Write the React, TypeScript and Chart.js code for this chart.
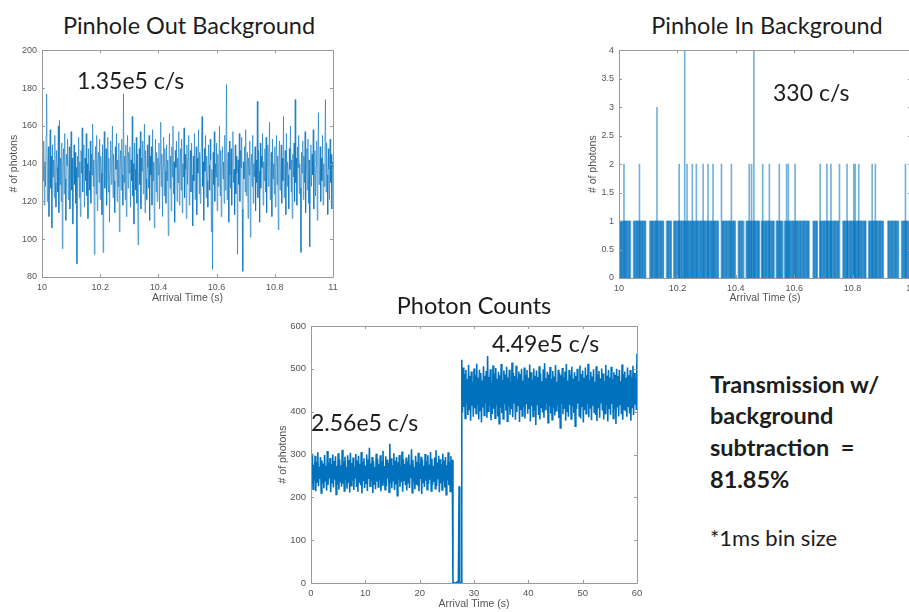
import React, { useEffect, useRef } from 'react';
import { Chart, registerables } from 'chart.js';

Chart.register(...registerables);

// ---- Pinhole out background: photons per bin, 10.000 s to 11.000 s, 2 ms apart ----
const outStart = 10;
const outStep = 0.002;
const outCounts = [
  124, 146, 131, 152, 118, 141, 128, 155, 177, 120,
  139, 149, 112, 136, 158, 127, 144, 106, 150, 133,
  142, 122, 155, 130, 117, 147, 138, 125, 160, 114,
  163, 129, 143, 120, 151, 95, 137, 148, 124, 156,
  132, 110, 145, 139, 153, 121, 134, 149, 116, 140,
  157, 126, 143, 108, 136, 150, 129, 146, 119, 138,
  87, 144, 133, 154, 122, 141, 112, 147, 135, 159,
  125, 138, 150, 117, 143, 131, 156, 123, 140, 111,
  148, 136, 126, 152, 119, 145, 134, 161, 128, 142,
  92, 137, 149, 124, 155, 115, 139, 146, 130, 153,
  121, 144, 135, 113, 150, 93, 141, 157, 127, 138,
  148, 118, 133, 154, 125, 143, 109, 136, 152, 129,
  140, 160, 122, 145, 131, 114, 149, 137, 156, 120,
  142, 128, 151, 104, 139, 147, 126, 153, 134, 118,
  177, 130, 144, 121, 150, 112, 138, 155, 127, 146,
  135, 149, 117, 142, 131, 165, 123, 140, 108, 151,
  137, 126, 154, 119, 145, 97, 133, 148, 129, 157,
  116, 143, 136, 152, 124, 139, 161, 114, 147, 132,
  121, 150, 138, 127, 155, 110, 144, 134, 149, 118,
  158, 131, 141, 106, 137, 153, 125, 146, 120, 143,
  134, 151, 116, 140, 162, 128, 145, 112, 139, 154,
  123, 148, 136, 119, 150, 131, 142, 102, 137, 156,
  127, 144, 115, 149, 133, 160, 124, 141, 109, 147,
  138, 152, 120, 143, 130, 157, 118, 136, 148, 126,
  153, 114, 140, 133, 159, 122, 145, 137, 111, 150,
  129, 142, 155, 118, 138, 147, 125, 151, 134, 107,
  144, 131, 156, 121, 139, 149, 113, 143, 135, 158,
  124, 146, 119, 137, 152, 165, 128, 141, 110, 148,
  136, 155, 122, 144, 131, 117, 150, 139, 126, 153,
  142, 104, 137, 84, 146, 129, 157, 120, 140, 133,
  151, 115, 145, 128, 138, 160, 123, 147, 112, 136,
  149, 132, 141, 119, 155, 126, 143, 182, 121, 139,
  146, 109, 152, 134, 127, 148, 118, 140, 157, 130,
  137, 113, 150, 124, 144, 135, 92, 142, 129, 156,
  120, 147, 138, 154, 116, 83, 141, 132, 149, 125,
  158, 123, 139, 146, 111, 143, 134, 152, 101, 137,
  145, 128, 155, 119, 140, 133, 149, 115, 142, 130,
  173, 122, 147, 136, 109, 151, 127, 144, 138, 156,
  118, 141, 131, 148, 125, 154, 114, 139, 150, 128,
  143, 162, 121, 137, 146, 112, 153, 132, 140, 124,
  149, 117, 138, 155, 129, 144, 105, 141, 152, 126,
  136, 150, 119, 143, 131, 165, 122, 139, 147, 113,
  156, 128, 141, 134, 116, 148, 137, 160, 125, 142,
  111, 145, 133, 151, 120, 174, 130, 143, 118, 149,
  138, 155, 124, 140, 127, 93, 146, 135, 152, 121,
  144, 130, 157, 114, 139, 148, 126, 153, 119, 142,
  96, 137, 150, 128, 145, 134, 158, 116, 141, 147,
  123, 139, 152, 110, 144, 167, 129, 136, 149, 120,
  143, 131, 155, 118, 140, 128, 146, 174, 125, 151,
  134, 113, 148, 137, 121, 153, 130, 145, 116, 141,
  138,
];
const outXTicks = [10, 10.2, 10.4, 10.6, 10.8, 11];
const outYTicks = [80, 100, 120, 140, 160, 180, 200];

// ---- Pinhole in background: 1 ms bins (ms after 10 s) ----
const inSingleMs = [
  1, 3, 4, 7, 9, 10, 13, 16, 18, 20, 23, 24, 27, 29, 32, 35, 36, 39,
  50, 53, 54, 57, 60, 62, 63, 66, 69, 71, 72, 75, 78, 80, 81, 84, 87, 89, 91,
  106, 108, 111, 113, 114, 117, 120, 122, 125, 126, 129, 132, 133, 136, 139, 141, 144, 145, 148, 151, 152,
  163, 166, 168, 169, 172, 175, 177, 179,
  188, 190, 193, 194, 197, 200, 202, 205, 207, 208, 211, 214, 215, 218, 221, 223, 226, 227, 230, 233,
  235, 238, 239, 242, 245, 246, 249, 252, 254, 257, 258, 261, 264, 266, 269, 270, 273, 276, 278, 281,
  282, 285, 288, 290, 293, 294, 297, 300, 302, 305, 306, 309, 312, 314, 317, 318, 321, 324, 326, 329,
  330, 333, 336, 338, 340,
  353, 356, 357, 360, 363, 365, 368, 369, 372, 375, 377, 380, 381, 384, 387, 389, 392, 393, 396, 398,
  409, 412, 413, 416, 419, 421, 424, 427,
  436, 438, 441, 442, 445, 448, 450, 453, 454, 457, 460, 462, 465, 466, 469, 472, 474, 477, 478, 480,
  488, 491, 492, 495, 498, 500, 503, 504, 507, 510, 512, 515, 516, 519, 522, 524, 527, 528, 531,
  539, 542, 543, 546, 549, 551, 554, 555, 558, 561,
  568, 570, 573, 574, 577, 580, 582, 585, 586, 589, 592, 594, 597, 598, 601, 604, 606, 609, 610, 613,
  616, 618, 621, 622, 625, 628, 630, 633, 634, 637, 640, 642, 645, 646, 649, 650,
  665, 668, 669, 672, 675, 677, 679,
  688, 691, 692, 695, 698, 700, 703, 704, 707, 710, 712, 715, 716, 719, 722, 724, 727, 728, 731, 734,
  736, 739, 740, 743, 746, 748, 751, 752,
  767, 770, 771, 774, 777, 779, 782, 783, 786, 789, 791, 794, 795, 798, 801, 803, 806, 807, 810, 813,
  815, 818, 819, 822, 825, 827, 830, 831, 834, 837, 839, 842, 843, 845,
  855, 858, 859, 862, 865, 867, 870, 871, 874, 877, 879, 882, 883, 886, 889, 891, 894, 895, 898, 901,
  903, 905,
  921, 924, 925, 928, 931, 933, 936, 937, 940, 943, 945, 948, 949, 952, 955, 957,
  968, 971, 972, 975, 978, 980, 983, 984, 987, 990, 992, 995, 996, 999,
];
const inMultiMs = [
  17, 70, 130, 206, 225, 233, 251, 265, 288, 305,
  322, 351, 385, 446, 454, 462, 492, 515, 549, 574,
  580, 603, 689, 712, 726, 755, 781, 804, 809, 821,
  867, 878, 981, 996,
];
const inMultiCounts = [
  2, 2, 3, 2, 4, 2, 2, 2, 2, 2,
  2, 2, 2, 2, 2, 4, 2, 2, 2, 2,
  2, 2, 2, 2, 2, 2, 2, 2, 2, 2,
  2, 2, 2, 2,
];
const inXTicks = [10, 10.2, 10.4, 10.6, 10.8, 11];
const inYTicks = [0, 0.5, 1, 1.5, 2, 2.5, 3, 3.5, 4];

// ---- Photon counts: trace from 0 s to 60 s, 0.125 s apart ----
const photonStep = 0.125;
const photonCounts = [
  // first level, 0 s to 26 s
  288, 231, 302, 219, 276, 240, 297, 214, 283, 236,
  305, 226, 271, 243, 294, 210, 286, 233, 279, 221,
  299, 238, 274, 216, 308, 229, 281, 244, 292, 212,
  277, 235, 300, 223, 285, 241, 296, 207, 273, 230,
  303, 218, 289, 237, 275, 225, 311, 232, 284, 215,
  295, 242, 270, 220, 298, 234, 287, 211, 304, 227,
  280, 239, 293, 217, 272, 245, 301, 224, 286, 213,
  297, 236, 278, 228, 306, 209, 283, 240, 291, 222,
  274, 233, 300, 215, 288, 243, 316, 226, 279, 238,
  294, 210, 285, 231, 271, 219, 302, 237, 290, 224,
  277, 241, 298, 214, 284, 229, 309, 235, 273, 218,
  296, 226, 288, 244, 280, 212, 325, 233, 291, 221,
  275, 239, 303, 217, 286, 230, 294, 204, 282, 242,
  299, 225, 272, 236, 307, 213, 289, 240, 278, 228,
  293, 216, 284, 234, 300, 222, 276, 245, 312, 211,
  287, 237, 270, 219, 297, 231, 283, 227, 304, 214,
  279, 243, 295, 208, 288, 235, 274, 224, 301, 239,
  285, 218, 298, 232, 276, 241, 306, 215, 290, 229,
  273, 236, 293, 220, 310, 227, 281, 244, 297, 212,
  289, 233, 278, 217, 302, 238, 286, 223, 294, 206,
  275, 240, 305, 228, 283, 214, 296, 235, 288,
  // beam blocked
  0, 0, 1, 0, 0, 0, 2, 0,
  0, 226, 3, 0, 0,
  // second level, 27.75 s to 60 s
  521, 398, 503, 411, 488, 384, 497, 419, 476, 392,
  509, 405, 483, 379, 494, 414, 470, 388, 501, 408,
  486, 396, 512, 417, 479, 382, 498, 403, 490, 375,
  473, 410, 506, 391, 484, 420, 495, 386, 530, 401,
  481, 413, 499, 380, 468, 394, 508, 407, 489, 385,
  502, 416, 477, 389, 493, 372, 485, 409, 511, 397,
  474, 383, 496, 418, 487, 402, 505, 378, 480, 412,
  498, 393, 469, 406, 515, 387, 491, 421, 483, 381,
  507, 399, 478, 415, 494, 376, 488, 404, 500, 390,
  472, 411, 503, 384, 486, 419, 497, 395, 479, 408,
  510, 377, 492, 414, 475, 389, 501, 403, 484, 369,
  496, 417, 481, 392, 506, 382, 489, 410, 471, 398,
  499, 386, 513, 405, 478, 420, 493, 374, 487, 413,
  504, 396, 476, 381, 495, 409, 482, 391, 509, 402,
  470, 415, 498, 385, 490, 362, 485, 418, 502, 394,
  480, 407, 494, 379, 511, 401, 473, 388, 497, 416,
  486, 383, 505, 412, 477, 397, 492, 366, 483, 406,
  500, 419, 471, 390, 508, 384, 488, 411, 496, 375,
  479, 404, 503, 395, 485, 418, 512, 387, 474, 409,
  493, 380, 482, 414, 499, 399, 470, 392, 506, 378,
  487, 410, 495, 386, 478, 421, 501, 403, 489, 382,
  472, 396, 509, 415, 484, 377, 497, 408, 480, 393,
  505, 418, 476, 384, 492, 405, 486, 371, 500, 412,
  483, 389, 498, 417, 471, 394, 510, 381, 488, 406,
  494, 401, 479, 388, 503, 413, 485, 396, 497, 379,
  481, 410, 507, 392, 490, 416, 476, 404, 536,
];
const photonXTicks = [0, 10, 20, 30, 40, 50, 60];
const photonYTicks = [0, 100, 200, 300, 400, 500, 600];

const TICK_FAMILY = "'Liberation Sans', Arial, Helvetica, sans-serif";
const TICK_COLOR = '#555555';
const TRACE_BLUE = '#0072BD';

// Box around the plot area with short inward tick marks on all four sides.
const boxTicks = {
  id: 'boxTicks',
  afterDatasetsDraw(chart: any) {
    const { ctx, chartArea: a, scales } = chart;
    const len = 3;
    ctx.save();
    ctx.strokeStyle = '#9a9a9a';
    ctx.lineWidth = 1;
    ctx.beginPath();
    ctx.rect(Math.round(a.left) + 0.5, Math.round(a.top) + 0.5,
      Math.round(a.right - a.left), Math.round(a.bottom - a.top));
    for (const t of scales.x.ticks) {
      const px = Math.round(scales.x.getPixelForValue(t.value)) + 0.5;
      ctx.moveTo(px, a.bottom); ctx.lineTo(px, a.bottom - len);
      ctx.moveTo(px, a.top); ctx.lineTo(px, a.top + len);
    }
    for (const t of scales.y.ticks) {
      const py = Math.round(scales.y.getPixelForValue(t.value)) + 0.5;
      ctx.moveTo(a.left, py); ctx.lineTo(a.left + len, py);
      ctx.moveTo(a.right, py); ctx.lineTo(a.right - len, py);
    }
    ctx.stroke();
    ctx.restore();
  },
};

type AxisOpts = {
  xMin: number; xMax: number; xTicks: number[];
  yMin: number; yMax: number; yTicks: number[];
  yWidth: number; xHeight: number;
  tickSize: number; titleSize: number;
  xTickPad: number; xTitlePad: number; yTitlePad: number;
};

const plainNumber = (v: number | string) => String(Number(v));

function buildScales(o: AxisOpts) {
  const tickFont = { family: TICK_FAMILY, size: o.tickSize };
  const titleFont = { family: TICK_FAMILY, size: o.titleSize };
  return {
    x: {
      type: 'linear',
      min: o.xMin,
      max: o.xMax,
      offset: false,
      grid: { display: false, drawTicks: false },
      border: { display: false },
      afterBuildTicks: (s: any) => { s.ticks = o.xTicks.map((value) => ({ value })); },
      afterFit: (s: any) => { s.height = o.xHeight; },
      ticks: {
        font: tickFont, color: TICK_COLOR, padding: o.xTickPad, maxRotation: 0,
        autoSkip: false, callback: plainNumber,
      },
      title: {
        display: true, text: 'Arrival Time (s)', font: titleFont, color: TICK_COLOR,
        padding: { top: 0, bottom: o.xTitlePad },
      },
    },
    y: {
      type: 'linear',
      min: o.yMin,
      max: o.yMax,
      grid: { display: false, drawTicks: false },
      border: { display: false },
      afterBuildTicks: (s: any) => { s.ticks = o.yTicks.map((value) => ({ value })); },
      afterFit: (s: any) => { s.width = o.yWidth; },
      ticks: { font: tickFont, color: TICK_COLOR, padding: 5, autoSkip: false, callback: plainNumber },
      title: {
        display: true, text: '# of photons', font: titleFont, color: TICK_COLOR,
        padding: { top: o.yTitlePad, bottom: 0 },
      },
    },
  };
}

const baseOptions = {
  animation: false,
  responsive: false,
  maintainAspectRatio: false,
  events: [],
  plugins: { legend: { display: false }, tooltip: { enabled: false }, title: { display: false } },
};

function pinholeOutConfig() {
  return {
    type: 'line',
    data: {
      datasets: [{
        data: outCounts.map((v, i) => ({ x: outStart + i * outStep, y: v })),
        borderColor: 'rgba(0,114,189,0.72)',
        borderWidth: 0.8,
        pointRadius: 0,
        tension: 0,
      }],
    },
    options: {
      ...baseOptions,
      layout: { padding: { top: 9, right: 12, left: 0, bottom: 0 } },
      scales: buildScales({
        xMin: 10, xMax: 11, xTicks: outXTicks, yMin: 80, yMax: 200, yTicks: outYTicks,
        yWidth: 42, xHeight: 35, tickSize: 9, titleSize: 10.5,
        xTickPad: 5, xTitlePad: 8, yTitlePad: 8,
      }),
    },
    plugins: [boxTicks],
  };
}

function pinholeInConfig() {
  return {
    type: 'bar',
    data: {
      datasets: [
        {
          data: inSingleMs.map((ms) => ({ x: 10 + ms / 1000, y: 1 })),
          backgroundColor: 'rgba(0,114,189,0.55)',
          borderWidth: 0,
          barThickness: 1,
          grouped: false,
        },
        {
          data: inMultiMs.map((ms, i) => ({ x: 10 + ms / 1000, y: inMultiCounts[i] })),
          backgroundColor: 'rgba(0,114,189,0.55)',
          borderWidth: 0,
          barThickness: 1,
          grouped: false,
        },
      ],
    },
    options: {
      ...baseOptions,
      layout: { padding: { top: 9, right: 14, left: 0, bottom: 0 } },
      scales: buildScales({
        xMin: 10, xMax: 11, xTicks: inXTicks, yMin: 0, yMax: 4, yTicks: inYTicks,
        yWidth: 39, xHeight: 34, tickSize: 9, titleSize: 10.5,
        xTickPad: 5, xTitlePad: 8, yTitlePad: 7,
      }),
    },
    plugins: [boxTicks],
  };
}

function photonConfig() {
  return {
    type: 'line',
    data: {
      datasets: [{
        data: photonCounts.map((v, i) => ({ x: i * photonStep, y: v })),
        borderColor: TRACE_BLUE,
        borderWidth: 1.6,
        pointRadius: 0,
        tension: 0,
      }],
    },
    options: {
      ...baseOptions,
      layout: { padding: { top: 14, right: 13, left: 0, bottom: 0 } },
      scales: buildScales({
        xMin: 0, xMax: 60, xTicks: photonXTicks, yMin: 0, yMax: 600, yTicks: photonYTicks,
        yWidth: 41, xHeight: 29, tickSize: 9.5, titleSize: 10.5,
        xTickPad: 5, xTitlePad: 2, yTitlePad: 7,
      }),
    },
    plugins: [boxTicks],
  };
}

function ChartCanvas(props: { left: number; top: number; width: number; height: number; make: () => any }) {
  const ref = useRef<HTMLCanvasElement | null>(null);
  useEffect(() => {
    if (!ref.current) return;
    const chart = new Chart(ref.current, props.make() as any);
    return () => chart.destroy();
  }, []);
  return (
    <canvas
      ref={ref}
      width={props.width}
      height={props.height}
      style={{ position: 'absolute', left: props.left, top: props.top, width: props.width, height: props.height }}
    />
  );
}

const TEXT_FAMILY = "Lato, 'Open Sans', sans-serif";

function Label(props: { text: string; x: number; cy: number; size: number; bold?: boolean; center?: boolean }) {
  const lh = Math.round(props.size * 1.2);
  const style: React.CSSProperties = {
    position: 'absolute',
    top: props.cy - lh / 2,
    lineHeight: `${lh}px`,
    fontSize: props.size,
    fontFamily: TEXT_FAMILY,
    fontWeight: props.bold ? 700 : 400,
    color: '#1d1d1d',
    whiteSpace: 'pre',
  };
  if (props.center) {
    style.left = props.x - 250;
    style.width = 500;
    style.textAlign = 'center';
  } else {
    style.left = props.x;
  }
  return <div style={style}>{props.text}</div>;
}

export default function App() {
  return (
    <div
      style={{
        position: 'fixed', left: 0, top: 0, width: 909, height: 612,
        overflow: 'hidden', background: '#ffffff',
      }}
    >
      <ChartCanvas left={0} top={40} width={345} height={272} make={pinholeOutConfig} />
      <ChartCanvas left={580} top={40} width={345} height={272} make={pinholeInConfig} />
      <ChartCanvas left={270} top={312} width={380} height={300} make={photonConfig} />

      <Label text="Pinhole Out Background" x={189} cy={25} size={23.5} center />
      <Label text="Pinhole In Background" x={767} cy={25} size={23.5} center />
      <Label text="Photon Counts" x={474} cy={305} size={23.5} center />

      <Label text="1.35e5 c/s" x={77} cy={80} size={23} />
      <Label text="330 c/s" x={773} cy={92} size={23} />
      <Label text="2.56e5 c/s" x={311} cy={422} size={23} />
      <Label text="4.49e5 c/s" x={492} cy={343} size={23} />

      <Label text="Transmission w/" x={710} cy={384} size={23.5} bold />
      <Label text="background" x={710} cy={415} size={23.5} bold />
      <Label text="subtraction  =" x={710} cy={447} size={23.5} bold />
      <Label text="81.85%" x={710} cy={479} size={23.5} bold />
      <Label text="*1ms bin size" x={710} cy={538} size={22} />
    </div>
  );
}
